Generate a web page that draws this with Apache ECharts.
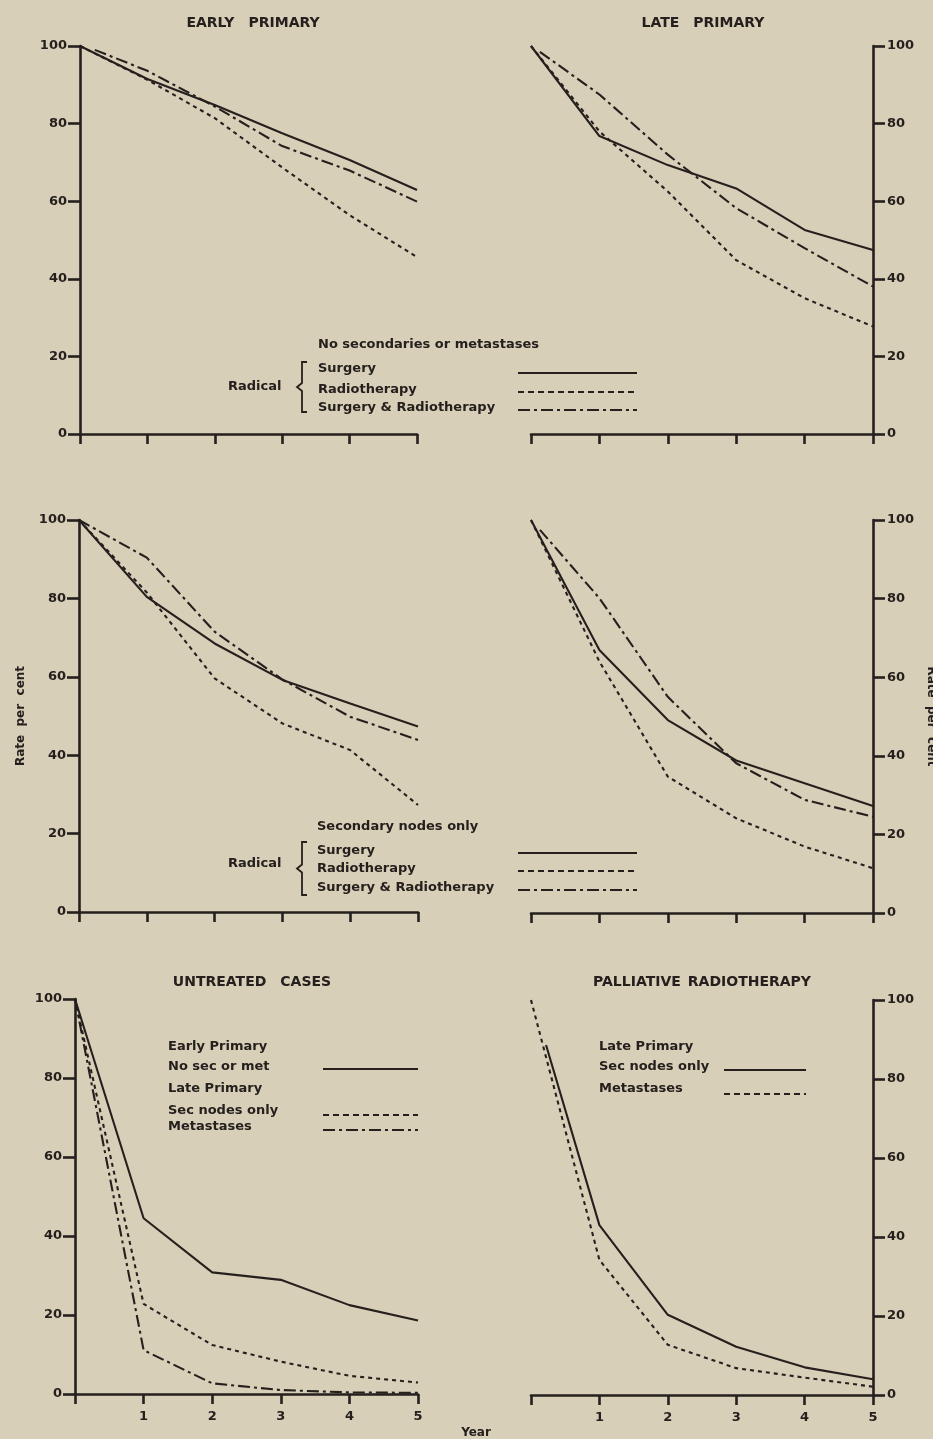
<!DOCTYPE html>
<html>
<head>
<meta charset="utf-8">
<title>Survival rates by stage and treatment</title>
<script src="https://cdn.jsdelivr.net/npm/echarts@6/dist/echarts.min.js"></script>
<style>
  html, body { margin: 0; padding: 0; background: #d8cfb8; }
  #chart { width: 933px; height: 1439px; }
</style>
</head>
<body>
<div id="chart"></div>
<script>
// ---- data: survival rate per cent by year after treatment ----
const YEARS = [0, 1, 2, 3, 4, 5];
const YEAR_LABELS = ['', '1', '2', '3', '4', '5'];
const RATE_TICKS = [0, 20, 40, 60, 80, 100];

// Early primary, radical treatment, no secondaries or metastases
const EP_SURGERY = [100, 91.5, 84.8, 77.5, 70.6, 62.9];
const EP_RADIO = [100, 91.3, 81.4, 68.7, 56.4, 45.6];
const EP_BOTH_YEARS = [0.22, 1, 2, 3, 4, 5];
const EP_BOTH = [99, 93.6, 84.4, 74.2, 67.9, 59.9];

// Late primary, radical treatment, no secondaries or metastases
const LP_SURGERY = [100, 76.8, 69.3, 63.3, 52.6, 47.4];
const LP_RADIO = [100, 78, 62.5, 44.8, 35, 27.7];
const LP_BOTH_YEARS = [0.13, 1, 2, 3, 4, 5];
const LP_BOTH = [98.5, 87.5, 72, 58.2, 47.9, 38];

// Early primary, radical treatment, secondary nodes only
const ES_SURGERY = [100, 80.4, 68.5, 59.2, 53.2, 47.3];
const ES_RADIO = [100, 81.5, 59.6, 48.1, 41.3, 27.3];
const ES_BOTH = [100, 90.4, 71.5, 59.3, 49.8, 43.9];

// Late primary, radical treatment, secondary nodes only
const LS_SURGERY = [100, 66.9, 49.1, 38.8, 33, 27.2];
const LS_RADIO = [100, 64, 34.7, 24.1, 16.9, 11.4];
const LS_BOTH_YEARS = [0.13, 1, 2, 3, 4, 5];
const LS_BOTH = [97.5, 80.1, 55, 38.1, 28.8, 24.5];

// Untreated cases
const UT_EARLY_NONE = [100, 44.5, 30.8, 28.9, 22.5, 18.6];
const UT_LATE_NODES = [100, 22.8, 12.4, 8.2, 4.6, 2.9];
const UT_LATE_METS = [100, 11.1, 2.7, 1.0, 0.4, 0.3];

// Palliative radiotherapy, late primary
const PR_NODES_YEARS = [0.22, 1, 2, 3, 4, 5];
const PR_NODES = [88.6, 43, 20.3, 12.2, 7, 4];
const PR_METS = [100, 34.2, 12.7, 6.8, 4.4, 2.1];

// ---- styling ----
const INK = '#25201d';
const FONT = '"DejaVu Sans", Lato, sans-serif';
const SOLID = 'solid';
const DOTTED = [4, 4];
const KEY_DOTTED = [6, 4];
const DASHDOT = [12, 4, 3, 4];

const pairs = (xs, ys) => xs.map((x, i) => [x, ys[i]]);

// Panel frames (pixel boxes of each plot area)
const PANELS = [
  { left: 80,  top: 46,   width: 337, height: 388, side: 'left',  years: false },
  { left: 531, top: 46,   width: 342, height: 388, side: 'right', years: false },
  { left: 79,  top: 520,  width: 339, height: 392, side: 'left',  years: false, name: true },
  { left: 531, top: 520,  width: 342, height: 393, side: 'right', years: false, name: true },
  { left: 75,  top: 999,  width: 343, height: 395, side: 'left',  years: true },
  { left: 531, top: 1000, width: 342, height: 395, side: 'right', years: true }
];

const labelStyle = { color: INK, fontFamily: FONT, fontWeight: 'bold', fontSize: 13 };

const grid = PANELS.map(p => ({
  left: p.left, top: p.top, width: p.width, height: p.height,
  containLabel: false, outerBoundsMode: 'none'
}));

const xAxis = PANELS.map((p, i) => ({
  type: 'value', gridIndex: i, min: 0, max: 5, interval: 1,
  axisLine: { show: true, onZero: false, lineStyle: { color: INK, width: 2.6 } },
  axisTick: { show: true, length: 10, lineStyle: { color: INK, width: 2.6 } },
  axisLabel: Object.assign({
    show: p.years, margin: 16,
    formatter: v => YEAR_LABELS[YEARS.indexOf(v)] || ''
  }, labelStyle),
  splitLine: { show: false }
}));

const yAxis = PANELS.map((p, i) => ({
  type: 'value', gridIndex: i, position: p.side,
  min: RATE_TICKS[0], max: RATE_TICKS[RATE_TICKS.length - 1], interval: 20,
  axisLine: { show: true, onZero: false, lineStyle: { color: INK, width: 2.6 } },
  axisTick: { show: true, length: 12, lineStyle: { color: INK, width: 2.6 } },
  axisLabel: Object.assign({ show: true, margin: p.side === 'left' ? 13 : 14 }, labelStyle),
  splitLine: { show: false },
  name: p.name ? 'Rate  per  cent' : '',
  nameLocation: 'middle',
  nameRotate: p.side === 'left' ? 90 : -90,
  nameGap: 52,
  nameTextStyle: { color: INK, fontFamily: FONT, fontWeight: 'bold', fontSize: 12 }
}));

function curve(panel, name, xs, ys, dash) {
  return {
    type: 'line', name: name, xAxisIndex: panel, yAxisIndex: panel,
    data: pairs(xs, ys), showSymbol: false, symbol: 'none', smooth: false,
    lineStyle: { color: INK, width: 2.1, type: dash, cap: 'butt' },
    itemStyle: { color: INK }, silent: true
  };
}

const series = [
  curve(0, 'Surgery', YEARS, EP_SURGERY, SOLID),
  curve(0, 'Radiotherapy', YEARS, EP_RADIO, DOTTED),
  curve(0, 'Surgery & Radiotherapy', EP_BOTH_YEARS, EP_BOTH, DASHDOT),

  curve(1, 'Surgery', YEARS, LP_SURGERY, SOLID),
  curve(1, 'Radiotherapy', YEARS, LP_RADIO, DOTTED),
  curve(1, 'Surgery & Radiotherapy', LP_BOTH_YEARS, LP_BOTH, DASHDOT),

  curve(2, 'Surgery', YEARS, ES_SURGERY, SOLID),
  curve(2, 'Radiotherapy', YEARS, ES_RADIO, DOTTED),
  curve(2, 'Surgery & Radiotherapy', YEARS, ES_BOTH, DASHDOT),

  curve(3, 'Surgery', YEARS, LS_SURGERY, SOLID),
  curve(3, 'Radiotherapy', YEARS, LS_RADIO, DOTTED),
  curve(3, 'Surgery & Radiotherapy', LS_BOTH_YEARS, LS_BOTH, DASHDOT),

  curve(4, 'No sec or met', YEARS, UT_EARLY_NONE, SOLID),
  curve(4, 'Sec nodes only', YEARS, UT_LATE_NODES, DOTTED),
  curve(4, 'Metastases', YEARS, UT_LATE_METS, DASHDOT),

  curve(5, 'Sec nodes only', PR_NODES_YEARS, PR_NODES, SOLID),
  curve(5, 'Metastases', YEARS, PR_METS, DOTTED)
];

// ---- titles, keys and annotations ----
function text(x, y, str, opts) {
  const o = opts || {};
  const align = o.align || 'left';
  return {
    type: 'text', x: x, y: y, silent: true,
    style: {
      text: str, fill: INK,
      font: 'bold ' + (o.size || 13) + 'px ' + FONT,
      align: align, verticalAlign: 'middle',
      textAlign: align, textVerticalAlign: 'middle'
    }
  };
}
function key(x1, x2, y, dash) {
  return {
    type: 'line', silent: true,
    shape: { x1: x1, y1: y, x2: x2, y2: y },
    style: { stroke: INK, lineWidth: 2.1, lineDash: dash === SOLID ? null : dash }
  };
}
function brace(x, y1, y2) {
  const mid = (y1 + y2) / 2;
  return {
    type: 'polyline', silent: true,
    shape: { points: [[x + 10, y1], [x + 5, y1], [x + 5, mid - 4], [x, mid], [x + 5, mid + 4], [x + 5, y2], [x + 10, y2]] },
    style: { stroke: INK, lineWidth: 1.8, fill: null }
  };
}

const graphic = [
  text(253, 23, 'EARLY\u2002\u2002PRIMARY', { align: 'center', size: 14 }),
  text(703, 23, 'LATE\u2002\u2002PRIMARY', { align: 'center', size: 14 }),
  text(252, 982, 'UNTREATED\u2002\u2002CASES', { align: 'center', size: 14 }),
  text(702, 982, 'PALLIATIVE\u2002RADIOTHERAPY', { align: 'center', size: 14 }),

  // key: no secondaries or metastases
  text(318, 345, 'No secondaries or metastases'),
  text(228, 387, 'Radical'),
  brace(297, 362, 412),
  text(318, 369, 'Surgery'),
  text(318, 390, 'Radiotherapy'),
  text(318, 408, 'Surgery & Radiotherapy'),
  key(518, 637, 373, SOLID),
  key(518, 637, 392, KEY_DOTTED),
  key(518, 637, 410, DASHDOT),

  // key: secondary nodes only
  text(317, 827, 'Secondary nodes only'),
  text(228, 864, 'Radical'),
  brace(297, 842, 895),
  text(317, 851, 'Surgery'),
  text(317, 869, 'Radiotherapy'),
  text(317, 888, 'Surgery & Radiotherapy'),
  key(518, 637, 853, SOLID),
  key(518, 637, 871, KEY_DOTTED),
  key(518, 637, 890, DASHDOT),

  // key: untreated cases
  text(168, 1047, 'Early Primary'),
  text(168, 1067, 'No sec or met'),
  text(168, 1089, 'Late Primary'),
  text(168, 1111, 'Sec nodes only'),
  text(168, 1127, 'Metastases'),
  key(323, 418, 1069, SOLID),
  key(323, 418, 1115, KEY_DOTTED),
  key(323, 418, 1130, DASHDOT),

  // key: palliative radiotherapy
  text(599, 1047, 'Late Primary'),
  text(599, 1067, 'Sec nodes only'),
  text(599, 1089, 'Metastases'),
  key(724, 806, 1070, SOLID),
  key(724, 806, 1094, KEY_DOTTED),

  text(476, 1433, 'Year', { align: 'center', size: 12 })
];

const chart = echarts.init(document.getElementById('chart'), null, { renderer: 'canvas' });
chart.setOption({
  backgroundColor: '#d8cfb8',
  animation: false,
  textStyle: { fontFamily: FONT },
  grid: grid,
  xAxis: xAxis,
  yAxis: yAxis,
  series: series,
  graphic: graphic
});
</script>
</body>
</html>
